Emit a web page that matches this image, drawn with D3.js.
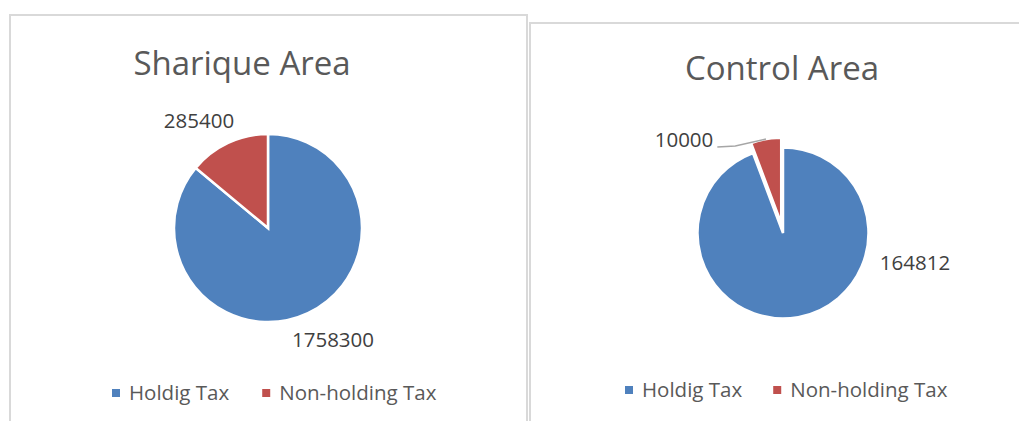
<!DOCTYPE html>
<html>
<head>
<meta charset="utf-8">
<script src="https://cdn.jsdelivr.net/npm/d3@7"></script>
<style>
  body { margin: 0; background: #fff; }
  svg { display: block; font-family: "Open Sans", sans-serif; }
</style>
</head>
<body>
<svg id="chart" width="1019" height="421"></svg>
<script>
// data
var categories = ["Holdig Tax", "Non-holding Tax"];
var shariqueValues = [1758300, 285400];
var controlValues = [164812, 10000];
var titles = ["Sharique Area", "Control Area"];
var colors = ["#4f81bd", "#c0504d"];

var svg = d3.select("#chart");

var color = d3.scaleOrdinal().domain(categories).range(colors);

// layout of the two panels
var panels = [
    {
        title: titles[0], values: shariqueValues,
        box: {x: 10, y: 15, w: 517, h: 500},
        cx: 268, cy: 228, r: 94,
        titleX: 242, titleY: 75,
        labelOff: [[65, 119], [-69, -100]],
        explode: [0, 0],
        leader: [false, false],
        legendX: 112, legendY: 400, legendGap: 33
    },
    {
        title: titles[1], values: controlValues,
        box: {x: 530, y: 23, w: 600, h: 500},
        cx: 783, cy: 233, r: 85.5,
        titleX: 782, titleY: 80,
        labelOff: [[132, 37], [-99, -86]],
        explode: [0, 10],
        leader: [false, true],
        legendX: 625, legendY: 397, legendGap: 31
    }
];

var pie = d3.pie().sort(null).value(function(d) { return d.value; });

panels.forEach(function(p) {
    var g = svg.append("g");

    g.append("rect")
        .attr("x", p.box.x).attr("y", p.box.y)
        .attr("width", p.box.w).attr("height", p.box.h)
        .attr("fill", "#fff")
        .attr("stroke", "#d9d9d9")
        .attr("stroke-width", 2);

    g.append("text")
        .attr("x", p.titleX).attr("y", p.titleY)
        .attr("text-anchor", "middle")
        .attr("font-size", 33)
        .attr("fill", "#595959")
        .text(p.title);

    var data = categories.map(function(c, i) { return {cat: c, value: p.values[i]}; });
    var arcs = pie(data);
    var arc = d3.arc().innerRadius(0).outerRadius(p.r);

    var pg = g.append("g").attr("transform", "translate(" + p.cx + "," + p.cy + ")");

    pg.selectAll("path")
        .data(arcs)
        .enter().append("path")
        .attr("transform", function(d, i) {
            var mid = (d.startAngle + d.endAngle) / 2, e = p.explode[i];
            return "translate(" + (Math.sin(mid) * e) + "," + (-Math.cos(mid) * e) + ")";
        })
        .attr("d", arc)
        .attr("fill", function(d) { return color(d.data.cat); })
        .attr("stroke", "#fff")
        .attr("stroke-width", 2.5)
        .attr("stroke-linejoin", "miter");

    // data labels
    var labels = pg.selectAll("text.lbl")
        .data(arcs)
        .enter().append("text")
        .attr("class", "lbl")
        .attr("x", function(d, i) { return p.labelOff[i][0]; })
        .attr("y", function(d, i) { return p.labelOff[i][1]; })
        .attr("text-anchor", "middle")
        .attr("font-size", 20.5)
        .attr("fill", "#404040")
        .text(function(d) { return d.data.value; });

    // leader lines
    labels.each(function(d, i) {
        if (!p.leader[i]) return;
        var w = this.getComputedTextLength();
        var mid = (d.startAngle + d.endAngle) / 2, R = p.r + p.explode[i];
        var x0 = p.labelOff[i][0] + w / 2 + 4, y0 = p.labelOff[i][1];
        var pts = [[x0, y0], [x0 + 18, y0 - 1], [Math.sin(mid) * R, -Math.cos(mid) * R]];
        pg.append("path")
            .attr("d", d3.line()(pts))
            .attr("fill", "none")
            .attr("stroke", "#a6a6a6")
            .attr("stroke-width", 1.5);
    });

    // legend
    var lx = p.legendX;
    categories.forEach(function(c) {
        g.append("rect")
            .attr("x", lx).attr("y", p.legendY - 11)
            .attr("width", 8).attr("height", 8)
            .attr("fill", color(c));
        var t = g.append("text")
            .attr("x", lx + 17).attr("y", p.legendY)
            .attr("font-size", 20.5)
            .attr("fill", "#595959")
            .text(c);
        lx += 17 + t.node().getComputedTextLength() + p.legendGap;
    });
});
</script>
</body>
</html>
